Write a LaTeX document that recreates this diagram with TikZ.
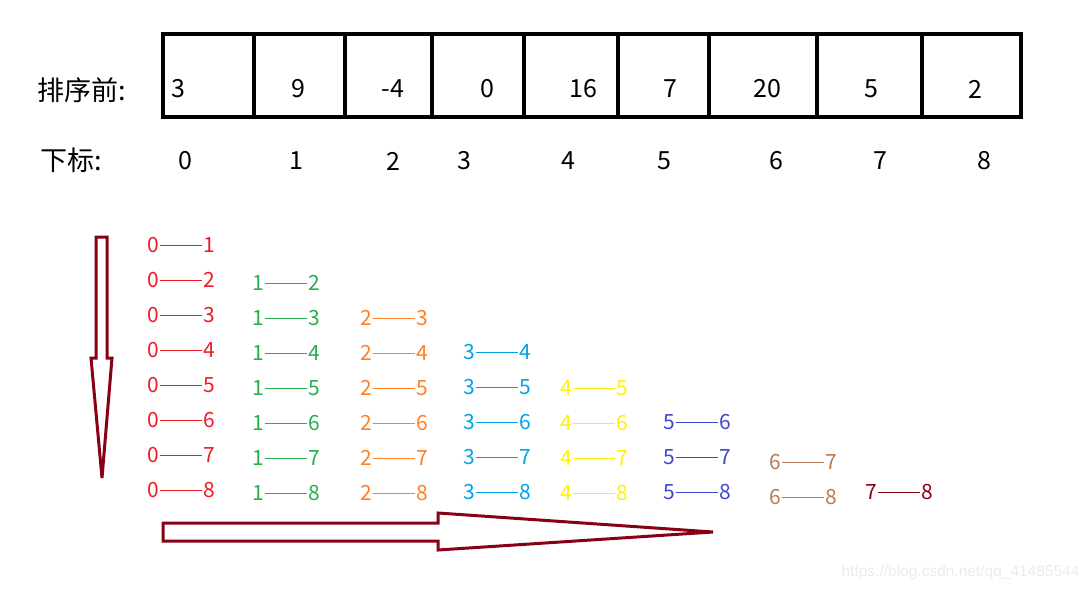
\documentclass[tikz,border=0pt]{standalone}
\usepackage{fontspec}
\setmainfont{Noto Sans CJK SC}
\newfontfamily\wmfont{Liberation Sans}
\usepackage{tikz}
\usetikzlibrary{positioning,calc}
\usepackage{xcolor}
\definecolor{pairred}{RGB}{237,28,36}
\definecolor{pairgreen}{RGB}{34,177,76}
\definecolor{pairorange}{RGB}{255,127,39}
\definecolor{pairsky}{RGB}{0,162,232}
\definecolor{pairyellow}{RGB}{255,242,0}
\definecolor{pairindigo}{RGB}{63,72,204}
\definecolor{pairbrown}{RGB}{185,122,87}
\definecolor{pairwine}{RGB}{136,0,21}

\begin{document}
\begin{tikzpicture}[x=1pt,y=-1pt,
    big/.style={font=\fontsize{25}{27}\selectfont,inner sep=0pt},
    head/.style={font=\fontsize{27}{29}\selectfont,inner sep=0pt},
    cellbox/.style={draw,line width=4pt,minimum height=83pt,inner sep=0pt},
    pair/.style={font=\fontsize{21}{23}\selectfont,inner sep=0pt,outer sep=0.8pt},
    link/.style={line width=1pt},
    bigarrow/.style={draw=pairwine,line width=3pt,line join=miter}]
    \useasboundingbox (0,0) rectangle (1092,590);
    % Array cells
    \foreach \l/\r/\n in {163/254/0,254/345/1,345/432/2,432/524/3,524/618/4,
        618/709/5,709/817/6,817/922/7,922/1021/8} {
        \node[cellbox,minimum width=\r-\l] (cell\n) at ({(\l+\r)/2},75.5) {};
    }
    \node[head] (before) at (82,90) {排序前:};
    \node[head] (idx) at (71,160) {下标:};
    \foreach \x/\v/\n in {178/3/0,298/9/1,393/-4/2,487/0/3,583/16/4,
        670/7/5,767/20/6,871/5/7,975/2/8} {
        \node[big] (val\n) at (\x,89) {\v};
    }
    \foreach \x/\n in {185/0,296/1,393/2,464/3,568/4,664/5,776/6,880/7,984/8} {
        \node[big] (ix\n) at (\x,161) {\n};
    }
    % Compared pairs
    \foreach \i/\xa/\dy/\clr in {0/153/0/pairred,1/258/3/pairgreen,
        2/366/3/pairorange,3/469/2/pairsky,4/566/3/pairyellow,
        5/669/2/pairindigo,6/775/7/pairbrown,7/871/2/pairwine} {
        \pgfmathtruncatemacro\nxt{\i+1}
        \foreach \j in {\nxt,...,8} {
            \node[pair,text=\clr] (lo\i\j) at (\xa,245+35*\j-35+\dy) {\i};
            \node[pair,text=\clr] (hi\i\j) at (\xa+56,245+35*\j-35+\dy) {\j};
            \draw[link,\clr] (lo\i\j) -- (hi\i\j);
        }
    }
    % Direction arrows
    \draw[bigarrow] (96,237) -- (107,237) -- (107,358) -- (112,358) -- (102,478)
        -- (91,358) -- (96,358) -- cycle;
    \draw[bigarrow] (163,523) -- (438,523) -- (438,513) -- (713,532) -- (438,550)
        -- (438,541) -- (163,541) -- cycle;
    \node[font=\wmfont\fontsize{15.5}{17}\selectfont,text=black!8,anchor=east]
        (mark) at (1083,572) {https://blog.csdn.net/qq\_41485544};
\end{tikzpicture}
\end{document}
